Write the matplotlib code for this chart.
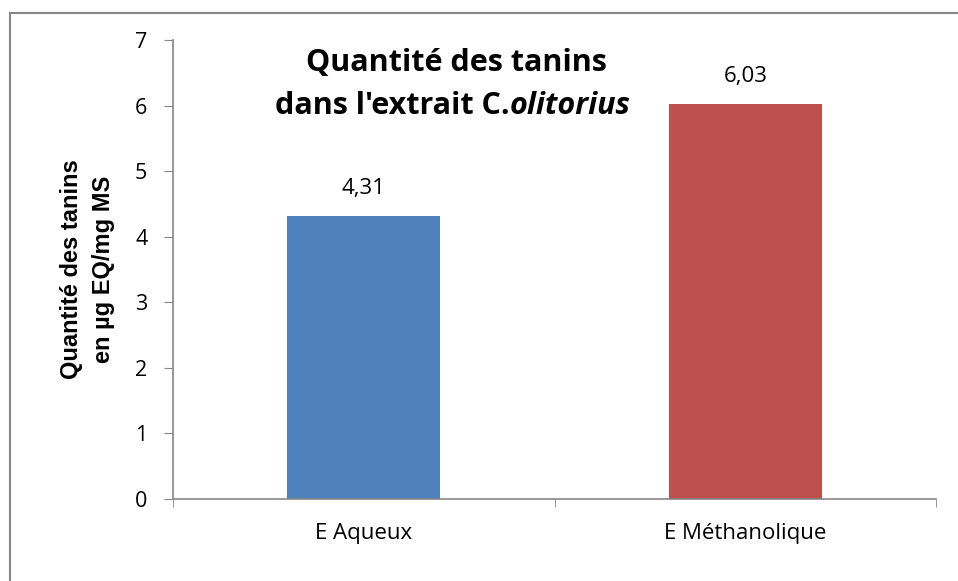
import matplotlib.pyplot as plt
from matplotlib.lines import Line2D

categories = ['E Aqueux', 'E Méthanolique']
values = [4.31, 6.03]
labels = ['4,31', '6,03']
colours = ['#4F81BD', '#C0504D']
yticks = [0, 1, 2, 3, 4, 5, 6, 7]

fig = plt.figure(figsize=(9.58, 5.81), dpi=100)
ax = fig.add_axes([173/958, 1 - 499/581, (936 - 173)/958, (499 - 40)/581])

x = range(len(categories))
ax.bar(x, values, width=0.4, color=colours, zorder=2)
for i, v in enumerate(values):
    ax.text(i, v + 0.42, labels[i], ha='center', va='center',
            fontsize=16, family='Open Sans')

ax.set_xlim(-0.5, 1.5)
ax.set_ylim(0, 7)
ax.set_yticks(yticks)
ax.set_yticklabels([str(t) for t in yticks], fontsize=15.5, family='Open Sans')
ax.set_xticks(list(x))
ax.set_xticklabels(categories, fontsize=16, family='Open Sans')
ax.tick_params(axis='x', length=0, pad=17)
ax.tick_params(axis='y', length=6.5, color='#868686', pad=12)
# category boundary ticks
ax.set_xticks([-0.5, 0.5, 1.5], minor=True)
ax.tick_params(axis='x', which='minor', length=6, color='#868686')

for s in ['top', 'right']:
    ax.spines[s].set_visible(False)
for s in ['left', 'bottom']:
    ax.spines[s].set_color('#868686')
    ax.spines[s].set_linewidth(1.2)

ax.set_ylabel('Quantité des tanins\nen µg EQ/mg MS', fontsize=17,
              fontweight='bold', family='Liberation Sans', labelpad=14,
              linespacing=1.55)

# title sits inside the plot area, second line has italic species name
ax.text(0.242, 6.65, 'Quantité des tanins', ha='center', va='center',
        fontsize=22, fontweight='bold', family='Open Sans')
ax.text(0.383, 6.0, "dans l'extrait C.", ha='right', va='center',
        fontsize=22, fontweight='bold', family='Open Sans')
ax.text(0.383, 6.0, 'olitorius', ha='left', va='center',
        fontsize=22, fontweight='bold', style='italic', family='Open Sans')

# outer chart border (left and top visible)
fig.add_artist(Line2D([9.5/958, 9.5/958], [0, 1 - 12.5/581], transform=fig.transFigure,
                      color='#868686', linewidth=1.5))
fig.add_artist(Line2D([9.5/958, 1], [1 - 12.5/581, 1 - 12.5/581], transform=fig.transFigure,
                      color='#868686', linewidth=1.5))

fig.savefig('out.png', dpi=100)
